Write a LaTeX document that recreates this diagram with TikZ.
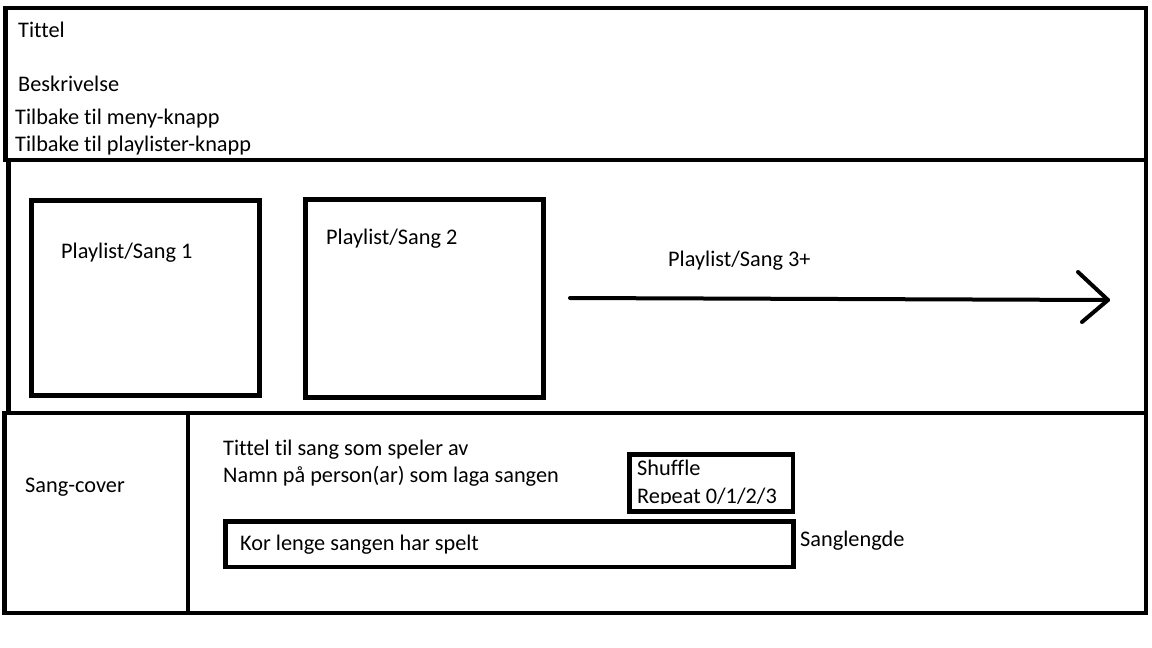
\documentclass[tikz,border=0pt]{standalone}
\usepackage{fontspec}
\setmainfont{Carlito}[Ligatures=NoCommon]
\begin{document}
\begin{tikzpicture}[x=1pt,y=-1pt,
  frame/.style={draw=black,line width=4.5pt},
  lbl/.style={anchor=base west,inner sep=0pt,font=\fontsize{22.3}{26}\selectfont},
  arr/.style={draw=black,line width=4pt,line cap=round,line join=round}]
\useasboundingbox (0,0) rectangle (1152,648);
\fill[white] (0,0) rectangle (1152,648);
% top panel
\draw[frame] (5.5,8) rectangle (1146,160);
% middle panel
\draw[frame] (8.5,160) rectangle (1146,413);
% bottom panel
\draw[frame] (4.5,413) rectangle (1146,613);
\draw[frame] (188,413) -- (188,613);
% playlist boxes
\draw[frame] (31.5,200.5) rectangle (259.5,395.5);
\draw[frame] (305.5,199.5) rectangle (543.5,397.5);
% shuffle box
\draw[frame] (629.5,454.5) rectangle (793,511.5);
% progress box
\draw[frame] (225.5,521.5) rectangle (793.5,567);
% arrow
\coordinate (a0) at (570,298);
\coordinate (a1) at (1108,300);
\coordinate (h1) at (1078,272);
\coordinate (h2) at (1082,322);
\draw[arr] (a0) -- (a1);
\draw[arr] (h1) -- (a1) -- (h2);
% texts
\node[lbl] (t1) at (18,37) {Tittel};
\node[lbl] (t2) at (18,91) {Beskrivelse};
\node[lbl] (t3) at (15,124) {Tilbake til meny-knapp};
\node[lbl] (t4) at (15,151) {Tilbake til playlister-knapp};
\node[lbl] (p1) at (61,258) {Playlist/Sang 1};
\node[lbl] (p2) at (326,244) {Playlist/Sang 2};
\node[lbl] (p3) at (668,266) {Playlist/Sang 3+};
\node[lbl] (sc) at (25,492) {Sang-cover};
\node[lbl] (st) at (223,455) {Tittel til sang som speler av};
\node[lbl] (sn) at (223,482) {Namn på person(ar) som laga sangen};
\node[lbl] (sh) at (637,475.5) {Shuffle};
\begin{scope}
\clip (632,456) rectangle (791,503.5);
\node[lbl] (rp) at (637,503) {Repeat 0/1/2/3};
\end{scope}
\node[lbl] (kl) at (240,550) {Kor lenge sangen har spelt};
\node[lbl] (sl) at (800,546) {Sanglengde};
\end{tikzpicture}
\end{document}
